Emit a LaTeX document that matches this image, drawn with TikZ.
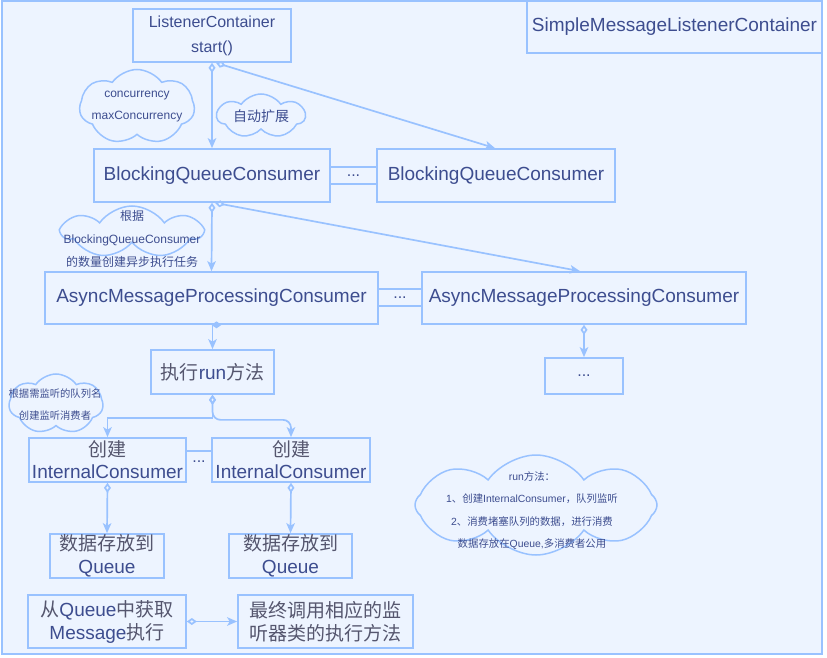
\documentclass[tikz,border=0pt]{standalone}
\usepackage{fontspec}
\setmainfont{Liberation Sans}
\newfontfamily\cjk{Noto Sans CJK SC}
\usetikzlibrary{arrows.meta,shapes.symbols,calc}
\definecolor{ln}{HTML}{99C2FF}
\definecolor{bg}{HTML}{EDF4FF}
\definecolor{tx}{HTML}{3D4D8F}
\definecolor{txg}{HTML}{55566E}
\newcommand\zh[1]{{\cjk #1}}
\newcommand\zg[1]{{\cjk\color{txg}#1}}
\tikzset{
  box/.style={draw=ln, line width=1.7pt, inner sep=0pt, text=tx, align=center, font=\fontsize{19}{23}\selectfont},
  conn/.style={draw=ln, line width=1.7pt, {Diamond[open,length=10pt,width=7pt]}-{Stealth[length=10pt,width=8.5pt,inset=2.5pt]}},
  plainline/.style={draw=ln, line width=1.7pt},
  cloudshape/.style={cloud, cloud puffs=7, cloud puff arc=110, cloud ignores aspect, draw=ln, line width=1.5pt, fill=bg, inner sep=0pt},
  ctext/.style={text=tx, align=center, inner sep=0pt},
}
\begin{document}
\begin{tikzpicture}[x=1pt,y=-1pt]
\useasboundingbox (0,0) rectangle (827,658);
\fill[white] (0,0) rectangle (827,658);
\draw[draw=ln, fill=bg, line width=1.7pt] (2,1) rectangle (822,654);

% boxes
\node[box, minimum width=295, minimum height=52] (smlc) at (674.5,27) {SimpleMessageListenerContainer};
\node[box, minimum width=158, minimum height=53, font=\fontsize{16}{25}\selectfont] (lc) at (212,35.5) {ListenerContainer\\start()};
\node[box, minimum width=236, minimum height=53] (bqc1) at (212,175.5) {BlockingQueueConsumer};
\node[box, minimum width=47, minimum height=17, font=\fontsize{16}{18}\selectfont] (dots1) at (353.5,175.5) {...};
\node[box, minimum width=238, minimum height=53] (bqc2) at (496,175.5) {BlockingQueueConsumer};
\node[box, minimum width=333, minimum height=52] (ampc1) at (211.5,298) {AsyncMessageProcessingConsumer};
\node[box, minimum width=44, minimum height=17, font=\fontsize{16}{18}\selectfont] (dots2) at (400,297.5) {...};
\node[box, minimum width=324, minimum height=52] (ampc2) at (584,298) {AsyncMessageProcessingConsumer};
\node[box, minimum width=123, minimum height=44] (run) at (212.5,372) {\zg{执行}run\zg{方法}};
\node[box, minimum width=78, minimum height=36, font=\fontsize{16}{18}\selectfont] (dots3) at (584,376) {...};
\node[box, minimum width=157, minimum height=44, font=\fontsize{19}{22}\selectfont] (ic1) at (107.5,460) {\zg{创建}\\InternalConsumer};
\node[box, minimum width=158, minimum height=44, font=\fontsize{19}{22}\selectfont] (ic2) at (291,460) {\zg{创建}\\InternalConsumer};
\node[ctext, font=\fontsize{16}{18}\selectfont] (dots4) at (199,462) {...};
\node[box, minimum width=114, minimum height=44] (q1) at (107,556) {\zg{数据存放到}\\Queue};
\node[box, minimum width=123, minimum height=44] (q2) at (290.5,556) {\zg{数据存放到}\\Queue};
\node[box, minimum width=158, minimum height=53] (get) at (107,621.5) {\zg{从}Queue\zg{中获取}\\Message\zg{执行}};
\node[box, minimum width=175, minimum height=53] (final) at (325.5,621.5) {\zg{最终调用相应的监}\\\zg{听器类的执行方法}};

% clouds
\node[cloudshape, minimum width=115, minimum height=75] (c1) at (137,107) {};
\node[ctext, font=\fontsize{12}{22}\selectfont] (c1t) at (c1) {concurrency\\maxConcurrency};
\node[cloudshape, minimum width=88, minimum height=44] (c2) at (261,116) {};
\node[ctext, font=\fontsize{14}{16}\selectfont] (c2t) at (c2) {\zh{自动扩展}};
\node[cloudshape, minimum width=139, minimum height=52] (c3) at (132,232) {};
\node[ctext, font=\fontsize{12}{23}\selectfont] (c3t) at (132,239) {\zh{根据}\\BlockingQueueConsumer\\\zh{的数量创建异步执行任务}};
\node[cloudshape, minimum width=94, minimum height=60] (c4) at (56,404) {};
\node[ctext, font=\fontsize{10.3}{22}\selectfont] (c4t) at (55,405) {\zh{根据需监听的队列名}\\\zh{创建监听消费者}};
\node[cloudshape, cloud puffs=8, minimum width=242, minimum height=100] (c5) at (536,505) {};
\node[ctext, font=\fontsize{10.4}{22.5}\selectfont] (c5t) at (532,510.5) {run\zh{方法：}\\1\zh{、创建}InternalConsumer\zh{，队列监听}\\2\zh{、消费堵塞队列的数据，进行消费}\\\zh{数据存放在}Queue,\zh{多消费者公用}};

% connectors
\draw[conn] (lc.south) -- (bqc1.north);
\draw[conn] ([xshift=4pt]lc.south) -- ([xshift=-1pt]bqc2.north);
\draw[conn] (bqc1.south) -- (ampc1.north);
\draw[conn] ([xshift=3pt]bqc1.south) -- ([xshift=-4pt]ampc2.north);
\draw[conn] (ampc1.south) -- (run.south |- ampc1.south) -- (run.north);
\draw[conn] (ampc2.south) -- (dots3.north);
\draw[conn] (run.south) -- ++(0,23) -| (ic1.north);
\draw[conn, rounded corners=8pt] (run.south) -- ++(0,25) -| (ic2.north);
\draw[plainline] ([yshift=9pt]ic1.east) -- ([yshift=9pt]ic2.west);
\draw[conn] (ic1.south) -- (q1.north);
\draw[conn] (ic2.south) -- (q2.north);
\draw[conn] (get.east) -- (final.west);
\end{tikzpicture}
\end{document}
